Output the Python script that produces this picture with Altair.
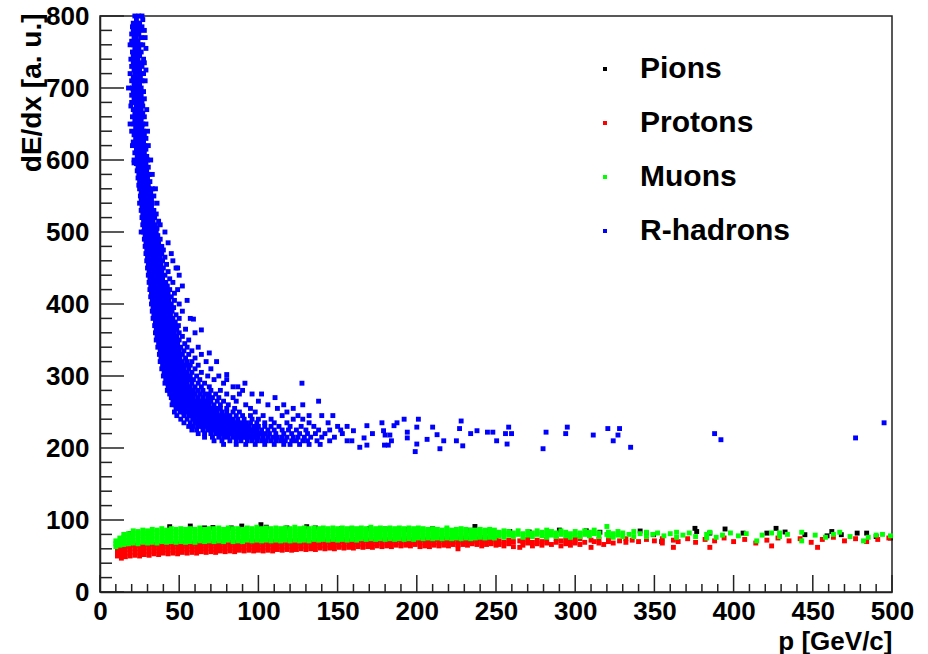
import altair as alt
import pandas as pd

# ---------------- data ----------------
SPECIES = ["Pions", "Protons", "Muons", "R-hadrons"]
COLORS = ["#000000", "#ff0000", "#00ff00", "#0000ff"]

X_MAJOR = [0, 50, 100, 150, 200, 250, 300, 350, 400, 450, 500]
X_MINOR = [10, 20, 30, 40, 60, 70, 80, 90, 110, 120, 130, 140, 160, 170, 180, 190,
           210, 220, 230, 240, 260, 270, 280, 290, 310, 320, 330, 340, 360, 370, 380, 390,
           410, 420, 430, 440, 460, 470, 480, 490]
Y_MAJOR = [0, 100, 200, 300, 400, 500, 600, 700, 800]
Y_MINOR = [20, 40, 60, 80, 120, 140, 160, 180, 220, 240, 260, 280, 320, 340, 360, 380,
           420, 440, 460, 480, 520, 540, 560, 580, 620, 640, 660, 680, 720, 740, 760, 780]

# R-hadrons: rows of (dE/dx, [p values])
RHADRON_ROWS = [
    (800, [22, 24.5, 26.5]), (795, [23, 27]), (790, [21, 23.5, 25]),
    (785, [20.5, 22, 24, 26.5]), (780, [21, 23, 25, 28]), (775, [20, 22.5, 24.5]),
    (770, [21.5, 23, 26, 28.5]), (765, [20, 22, 24]), (760, [19, 21, 23.5, 25.5, 27]),
    (755, [22, 24.5, 29]), (750, [20.5, 22.5, 24, 26]), (745, [21, 23, 25]),
    (740, [19.5, 22, 24, 27.5]), (735, [21, 23.5, 25.5, 28]), (730, [20, 22.5, 24.5, 26.5]),
    (725, [21.5, 23, 25, 29]), (720, [19, 22, 24, 26, 27.5]), (715, [21, 23, 25.5]),
    (710, [20, 22, 24.5, 26.5, 28.5]), (705, [21.5, 23.5, 25]), (700, [18, 20.5, 22.5, 24, 26]),
    (695, [21, 23, 25.5, 27.5]), (690, [20, 22, 24, 26]), (685, [21.5, 23.5, 25, 28]),
    (680, [20, 22.5, 24.5, 26.5]), (675, [19.5, 23, 25, 27]), (670, [21, 22.5, 24, 26, 29.5]),
    (665, [22, 24.5, 27]), (660, [20.5, 23, 25, 26.5, 28]), (655, [22, 24, 26]),
    (650, [19, 21.5, 23.5, 25, 27, 29]), (645, [22.5, 24.5, 26.5]), (640, [20, 23, 25, 27.5, 30]),
    (635, [21.5, 24, 26, 28]), (630, [22.5, 24.5, 27, 29]), (625, [21, 23.5, 25.5, 27.5]),
    (620, [20.5, 22.5, 24.5, 26, 28, 30.5]), (615, [23, 25, 27, 29]), (610, [22, 24, 26, 28]),
    (605, [23.5, 25.5, 27.5, 29.5]), (600, [21.5, 24, 26, 28, 30, 32]), (595, [23, 25, 27, 29]),
    (590, [24, 26, 28, 30.5]), (585, [23.5, 25.5, 27.5, 29.5]), (580, [24.5, 26.5, 28.5, 31, 33]),
    (575, [24, 26, 28, 30]), (570, [25, 27, 29, 31.5]), (565, [24.5, 26.5, 28.5, 30.5]),
    (560, [25, 27, 29, 31, 33, 35]), (555, [26, 28, 30, 32]), (550, [25.5, 27.5, 29.5, 31.5, 34]),
    (545, [26, 28, 30, 32.5]), (540, [25, 27, 29, 31, 33, 36]), (535, [26.5, 28.5, 30.5, 32.5]),
    (530, [26, 28, 30, 32, 34]), (525, [27, 29, 31, 33, 35.5]), (520, [26.5, 28.5, 30.5, 32.5, 34.5]),
    (515, [27.5, 29.5, 31.5, 33.5, 37]), (510, [27, 29, 31, 33, 35, 38]), (505, [28, 30, 32, 34, 36]),
    (500, [26, 27.5, 29.5, 31.5, 33.5, 35.5, 41]), (495, [28.5, 30.5, 32.5, 34.5, 36.5]),
    (490, [28, 30, 32, 34, 36, 38]), (485, [29, 31, 33, 35, 37, 43]),
    (480, [28.5, 30.5, 32.5, 34.5, 36.5, 39]), (475, [29.5, 31.5, 33.5, 35.5, 37.5, 40]),
    (470, [29, 31, 33, 35, 37, 39, 45]), (465, [30, 32, 34, 36, 38, 41]),
    (460, [29.5, 31.5, 33.5, 35.5, 37.5, 39.5, 46]), (455, [30.5, 32.5, 34.5, 36.5, 38.5, 42]),
    (450, [30, 32, 34, 36, 38, 40, 48]), (445, [31, 33, 35, 37, 39, 43]),
    (440, [30.5, 32.5, 34.5, 36.5, 38.5, 41, 50]), (435, [31.5, 33.5, 35.5, 37.5, 39.5, 44]),
    (430, [31, 33, 35, 37, 39, 41.5, 46]), (425, [32, 34, 36, 38, 40, 42.5, 52]),
    (420, [31.5, 33.5, 35.5, 37.5, 39.5, 41.5, 44, 49]), (415, [32.5, 34.5, 36.5, 38.5, 40.5, 43, 47]),
    (410, [32, 34, 36, 38, 40, 42, 45]), (405, [33, 35, 37, 39, 41, 43.5, 47, 55]),
    (400, [32.5, 34.5, 36.5, 38.5, 40.5, 42.5, 45, 50]), (395, [33.5, 35.5, 37.5, 39.5, 41.5, 44, 46.5]),
    (390, [33, 35, 37, 39, 41, 43, 45.5, 52]), (385, [34, 36, 38, 40, 42, 44.5, 48]),
    (380, [33.5, 35.5, 37.5, 39.5, 41.5, 43.5, 46, 50, 57]), (375, [35, 37, 39, 41, 43, 45, 47.5]),
    (370, [34.5, 36.5, 38.5, 40.5, 42.5, 44.5, 47, 49.5]),
    (365, [35.5, 37.5, 39.5, 41.5, 43.5, 46, 48.5, 54]),
    (360, [35, 37, 39, 41, 43, 45, 47, 50, 60]), (355, [36, 38, 40, 42, 44, 46, 48.5, 52]),
    (350, [35.5, 37.5, 39.5, 41.5, 43.5, 45.5, 47.5, 50, 56]),
    (345, [37, 39, 41, 43, 45, 47, 49, 53.5]),
    (340, [36.5, 38.5, 40.5, 42.5, 44.5, 46.5, 48.5, 51, 55, 62]),
    (335, [38, 40, 42, 44, 46, 48, 50, 53, 58]),
    (330, [37.5, 39.5, 41.5, 43.5, 45.5, 47.5, 49.5, 52, 56, 64]),
    (325, [38.5, 40.5, 42.5, 44.5, 46.5, 48.5, 50.5, 54, 60]),
    (320, [38, 40, 42, 44, 46, 48, 50, 52, 55, 58, 67]),
    (315, [39.5, 41.5, 43.5, 45.5, 47.5, 49.5, 51.5, 54, 57, 62]),
    (310, [39, 41, 43, 45, 47, 49, 51, 53, 56, 60, 70]),
    (305, [40.5, 42.5, 44.5, 46.5, 48.5, 50.5, 52.5, 55, 58, 64]),
    (300, [40, 42, 44, 46, 48, 50, 52, 54, 57, 61, 68, 75]),
    (295, [41.5, 43.5, 45.5, 47.5, 49.5, 51.5, 53.5, 56, 59, 63, 72, 80]),
    (290, [41, 43, 45, 47, 49, 51, 53, 55, 58, 62, 66, 78, 91.5, 127.5]),
    (285, [43, 45, 47, 49, 51, 53, 55, 57, 60, 64, 69, 84, 87]),
    (280, [42.5, 44.5, 46.5, 48.5, 50.5, 52.5, 54.5, 56.5, 59, 62, 65, 70, 76, 90]),
    (275, [44, 46, 48, 50, 52, 54, 56, 58, 60, 63, 66, 69, 73, 80, 88, 96, 102]),
    (270, [45, 47, 49, 51, 53, 55, 57, 59, 62, 65, 68, 71, 75, 84, 110.5]),
    (265, [46, 48, 50, 52, 54, 56, 58, 60, 62.5, 65, 67.5, 70, 74, 78, 86, 100, 138]),
    (260, [45.5, 47.5, 49.5, 51.5, 53.5, 55.5, 57.5, 59.5, 61.5, 64, 66.5, 69, 72, 76, 81, 92, 106, 116, 128]),
    (255, [48, 50, 52, 54, 56, 58, 60, 62, 64, 66, 68.5, 71, 73.5, 76, 80, 85, 95, 112, 122]),
    (250, [47, 50.5, 52.5, 55, 57, 59, 61, 63, 65, 67, 69, 71.5, 74, 77, 80, 84, 88, 98, 118]),
    (245, [48.5, 53, 56, 58, 60, 62, 64, 66, 68, 70, 72, 74.5, 77, 79.5, 82, 86, 90, 95, 103,
           115, 125, 132, 140, 147]),
    (240, [51, 55, 58.5, 61, 63, 65, 67, 69, 71, 73, 75, 77, 79, 81.5, 84, 87, 91, 96, 100, 108,
           122, 128]),
    (235, [53, 57, 60, 62, 64, 66, 68, 70, 72, 74, 76, 78, 80, 82, 84.5, 87, 89.5, 92, 95, 99,
           104, 110, 118, 132, 144]),
    (230, [56, 59, 62, 64.5, 67, 69, 71, 73, 75, 77, 79, 81, 83, 85, 87, 89, 91.5, 94, 97, 100,
           104, 108, 113, 120, 127, 135, 150, 156]),
    (225, [58, 61, 65, 68, 70, 72, 74, 76, 78, 80, 82, 84, 86, 88, 90, 92, 94, 96.5, 99, 102,
           106, 110, 115, 119, 124, 130, 138, 145, 152]),
    (220, [62, 66, 70, 73, 75, 77, 79, 81, 83, 85, 87, 89, 91, 93, 95, 97, 99, 101.5, 104, 107,
           111, 116, 121, 126, 131, 136, 142, 153]),
    (215, [66, 71, 75, 78, 81, 84, 86, 88, 90, 92, 94, 96, 98, 100, 103, 106, 109, 112, 115,
           118, 122, 125, 129, 133, 140, 148]),
    (210, [72, 77, 82, 86, 89, 93, 96, 99, 102, 105, 108, 111, 114, 117, 121, 124, 128, 131,
           137, 145, 156]),
    (205, [78, 86, 92, 98, 104, 110, 116, 120, 126, 132, 139]),
]

# R-hadrons: isolated points (p, dE/dx)
RHADRON_TAIL = [
    (495, 235), (477, 214), (388, 220), (392, 211.5), (335, 201), (328, 227), (327, 218),
    (324, 210), (320.6, 227), (311.4, 218), (295, 229), (294, 220), (281.6, 222), (279.7, 199),
    (259.8, 220), (258, 229), (257, 205.5), (256, 220), (250.4, 210), (248, 222), (244.6, 222),
    (238, 224), (234, 220), (229, 203), (227, 227), (228, 237.5), (225, 210), (217, 210),
    (214.6, 199), (212.8, 218.5), (210, 229), (206.5, 212), (201, 240), (200, 229),
    (200, 205.5), (199, 195), (194, 222), (194, 214), (192, 240), (187.5, 235), (185.6, 231),
    (184, 210), (182, 204), (179.6, 204), (179, 224), (178, 235), (180, 218), (183, 218),
    (172, 220), (168.5, 231), (168.5, 204), (166.7, 214), (164, 201), (160, 224), (159, 210),
    (64, 364), (59, 379), (49, 450), (69, 332), (73.6, 320), (80, 302), (21.5, 596),
]

# Muons: columns of (p, [dE/dx values])
MUON_COLS = [
    (10, [63, 67, 71]), (12.5, [65, 70, 75]), (15, [66, 71, 76, 80]), (18, [67, 72, 76, 81]),
    (21, [68, 72, 77, 82, 85]), (24, [67, 71, 76, 80, 84]), (27, [69, 73, 78, 82, 86]),
    (30, [68, 72, 77, 81, 85]), (33, [69, 74, 78, 83, 87]), (36, [68, 72, 77, 82, 86]),
    (39, [70, 74, 79, 83, 88]), (42, [69, 73, 78, 82, 86]), (45, [70, 75, 79, 84, 88]),
    (48, [69, 73, 78, 83, 87]), (51, [70, 74, 79, 83, 88]), (54, [69, 74, 78, 82, 87]),
    (57, [70, 75, 80, 84, 88]), (60, [69, 73, 78, 83, 87]), (63, [71, 75, 79, 84, 89]),
    (66, [70, 74, 79, 83, 87]), (69, [71, 75, 80, 84, 88]), (72, [70, 74, 78, 83, 88]),
    (75, [71, 76, 80, 85, 89]), (78, [70, 74, 79, 83, 87]), (81, [72, 76, 80, 85, 89]),
    (84, [70, 75, 79, 84, 88]), (87, [71, 75, 80, 84, 88]), (90, [70, 74, 79, 83, 87]),
    (93, [72, 76, 80, 85, 89]), (96, [71, 75, 79, 84, 88]), (99, [72, 76, 81, 85, 90]),
    (102, [71, 75, 80, 84, 88]), (105, [72, 76, 81, 85, 89]), (108, [71, 75, 79, 84, 88]),
    (111, [72, 77, 81, 85, 89]), (114, [71, 75, 80, 84, 88]), (117, [72, 76, 81, 85, 89]),
    (120, [71, 75, 79, 84, 88]), (123, [72, 77, 81, 86, 90]), (126, [71, 76, 80, 84, 88]),
    (129, [72, 76, 81, 85, 89]), (132, [71, 75, 80, 84, 88]), (135, [73, 77, 81, 85, 89]),
    (138, [72, 76, 80, 84, 88]), (141, [73, 77, 82, 86, 89]), (144, [72, 76, 80, 85, 88]),
    (147, [73, 77, 81, 85, 89]), (150, [72, 76, 81, 85, 88]), (153, [73, 77, 81, 86, 89]),
    (156, [72, 76, 80, 84, 88]), (159, [73, 78, 82, 86, 89]), (162, [72, 76, 81, 85, 88]),
    (165, [74, 78, 82, 86, 89]), (168, [73, 77, 81, 85, 88]), (171, [74, 78, 82, 86, 90]),
    (174, [73, 77, 81, 85, 88]), (177, [74, 78, 82, 86, 89]), (180, [73, 77, 81, 85, 88]),
    (183, [74, 78, 82, 86, 89]), (186, [73, 77, 81, 85, 88]), (189, [74, 78, 83, 86, 89]),
    (192, [73, 77, 81, 85, 88]), (195, [74, 78, 82, 86, 89]), (198, [73, 77, 81, 85, 88]),
    (201, [75, 79, 83, 86, 89]), (204, [74, 78, 82, 86, 88]), (207, [75, 79, 83, 87]),
    (210, [74, 78, 82, 86, 88]), (213, [75, 79, 83, 87]), (216, [74, 78, 82, 86]),
    (219, [75, 79, 83, 87, 89]), (222, [74, 78, 82, 86]), (225, [75, 79, 83, 87]),
    (228, [74, 78, 82, 86, 88]), (231, [75, 79, 83, 87]), (234, [74, 78, 82, 86]),
    (237, [75, 79, 83, 86]), (240, [76, 80, 84, 87]), (243, [75, 79, 83, 86]),
    (246, [76, 80, 84, 87]), (249, [75, 79, 83, 86]),
    (252, [78, 83]), (255, [76, 81, 85]), (258, [79, 84]), (261, [77, 82]), (264, [80, 85]),
    (267, [76, 81]), (270, [79, 84]), (273, [77, 82]), (276, [80, 85]), (279, [78, 83]),
    (282, [76, 81, 86]), (285, [79, 84]), (288, [77, 82]), (291, [80, 85]), (294, [78, 83]),
    (297, [76, 81]), (300, [79, 84]), (303, [77, 82]), (306, [80, 85]), (309, [78, 83]),
    (312, [81, 86]), (315, [77, 82]), (320, [80, 91]), (321, [78, 83]), (324, [76, 81]),
    (327, [79, 84]), (330, [77, 82]), (334, [80]), (337, [77, 84]), (341, [81]),
    (345, [77, 83]), (349, [80]), (352, [82]), (356, [78]), (360, [81]), (364, [76, 83]),
    (368, [79]), (372, [82]), (376, [77]), (383, [75, 80]), (385, [83]), (389, [76]),
    (393, [79]), (398, [82]), (403, [78]), (408, [81]), (414.6, [71]), (418, [79]),
    (424, [82]), (429, [77, 82]), (434, [80]), (443, [71, 83]), (451.5, [79]), (458, [76]),
    (463, [80]), (467, [83]), (473.5, [77]), (482, [71]), (485, [76]), (490, [79]),
    (494, [80]), (499, [78]),
]

# Protons: columns of (p, [dE/dx values])
PROTON_COLS = [
    (11, [50, 55, 60]), (13.5, [47, 52, 57, 62]), (16, [49, 54, 59, 63]), (19, [50, 55, 60, 64]),
    (22, [51, 56, 61, 65]), (25, [50, 55, 60, 64]), (28, [52, 57, 62, 66]), (31, [51, 56, 61, 65]),
    (34, [53, 58, 62, 66]), (37, [52, 57, 61, 65]), (40, [54, 59, 63, 67]), (43, [53, 58, 62, 66]),
    (46, [54, 59, 63, 67]), (49, [53, 58, 63, 67]), (52, [55, 60, 64, 67]), (55, [54, 59, 63, 67]),
    (58, [55, 60, 64, 68]), (61, [54, 59, 63, 67]), (64, [56, 60, 64, 68]), (67, [55, 60, 64, 68]),
    (70, [56, 61, 65, 68]), (73, [55, 59, 64, 68]), (76, [57, 61, 65, 69]), (79, [56, 60, 65, 69]),
    (82, [57, 62, 66, 69]), (85, [56, 61, 65, 69]), (88, [58, 62, 66, 70]), (91, [57, 61, 66, 70]),
    (94, [58, 63, 67, 70]), (97, [57, 62, 66, 70]), (100, [58, 62, 66, 70]),
    (103, [57, 61, 66, 70]), (106, [58, 63, 67, 71]), (109, [57, 62, 66, 70]),
    (112, [59, 63, 67, 71]), (115, [58, 62, 67, 71]), (118, [59, 64, 68, 72]),
    (121, [58, 63, 67, 71]), (124, [59, 64, 68, 72]), (127, [60, 65, 69]),
    (130, [59, 63, 68, 72]), (133, [60, 65, 69]), (136, [59, 64, 68, 72]), (139, [61, 65, 69]),
    (142, [60, 64, 69, 72]), (145, [61, 66, 70]), (148, [60, 65, 69, 73]), (151, [62, 66, 70]),
    (154, [61, 65, 70, 73]), (157, [62, 67, 71]), (160, [61, 66, 70, 73]), (163, [63, 67, 71]),
    (166, [62, 66, 71]), (169, [63, 68, 72]), (172, [62, 67, 71]), (175, [64, 68, 72]),
    (178, [63, 67, 72]), (181, [64, 69, 73]), (184, [63, 68, 72]), (187, [65, 69, 73]),
    (190, [64, 68, 73]), (193, [65, 70, 74]), (196, [64, 69, 73]), (199, [66, 70, 74]),
    (202, [63, 68, 72]), (205, [64, 69, 73]), (208, [63, 68, 72]), (211, [65, 69, 73]),
    (214, [64, 68, 73]), (217, [65, 70, 74]), (220, [64, 69, 73]), (223, [66, 70, 74]),
    (226, [60, 65, 69, 74]), (229, [66, 71, 75]), (232, [65, 70, 74]), (235, [67, 71, 75]),
    (238, [66, 70, 74]), (241, [64, 68, 73, 76]), (244, [66, 71, 75]), (247, [67, 72, 76]),
    (250, [65, 70, 75]),
    (252, [66, 71]), (255, [64, 69]), (258, [67, 72]), (261, [63, 70]), (265, [62, 71]),
    (267, [65, 70]), (270, [68, 73]), (273, [64, 69]), (276, [67, 72]), (279, [65, 70]),
    (282, [68, 73]), (285, [66]), (288, [69, 74]), (291, [64, 71]), (294, [67, 72]),
    (297, [65, 70]), (300, [68, 73]), (303, [66, 74]), (306, [69]), (310, [62, 72]),
    (312, [70]), (315, [68, 73]), (318, [66]), (321, [70, 75]), (324, [68]), (328, [71]),
    (332, [69, 74]), (336, [72]), (340, [70]), (345, [73]), (350, [71]), (355, [68, 74]),
    (362, [62, 72]), (365, [70]), (371, [74]), (376, [69]), (382, [73]), (385, [62]),
    (388, [71]), (394, [75]), (400, [70]), (407, [73]), (414, [68]), (421, [72]),
    (424, [64]), (428, [75]), (435, [71]), (442, [74]), (449, [69]), (453, [62]),
    (456, [73]), (463, [76]), (470, [71]), (477, [74]), (484, [70]), (491, [73]), (498, [75]),
]

# Pions: points (p, dE/dx) visible around the muon band
PION_POINTS = [
    (11.8, 70), (19, 81), (44, 90.7), (57, 91.6), (66, 89), (71.3, 89.5), (82.9, 89),
    (89.5, 91.6), (101.6, 93.5), (105, 90), (118, 89), (130.5, 90.7), (136, 89),
    (152.5, 88), (159, 87.5), (170, 88), (180, 87.5), (194.6, 86.6), (210, 88),
    (236.7, 91), (234, 85.7), (234.6, 70), (244, 84.7), (248, 84), (258.7, 84),
    (271, 83.3), (290, 86), (307, 85), (315.6, 83), (341, 84.7), (345, 81.8),
    (349.5, 79.6), (354.6, 70), (375.6, 88.4), (376.7, 84), (385, 81.8), (394.6, 87.5),
    (406, 81.8), (421, 81.8), (426.8, 88.4), (432.5, 83.3), (445, 79.6), (459, 78),
    (462, 84), (468, 79.6), (478, 81.8), (484, 81.8), (490, 77), (499, 75),
]

# ---------------- table built from the lists ----------------
rows = []
for p, d in PION_POINTS:
    rows.append({"p": p, "dedx": d, "species": "Pions"})
for p, ds in PROTON_COLS:
    for d in ds:
        rows.append({"p": p, "dedx": d, "species": "Protons"})
for p, ds in MUON_COLS:
    for d in ds:
        rows.append({"p": p, "dedx": d, "species": "Muons"})
for d, ps in RHADRON_ROWS:
    for p in ps:
        rows.append({"p": p, "dedx": d, "species": "R-hadrons"})
for p, d in RHADRON_TAIL:
    rows.append({"p": p, "dedx": d, "species": "R-hadrons"})
df = pd.DataFrame(rows)
df["order"] = range(len(df))

W, H = 792, 576
FONT = "Liberation Sans"

xscale = alt.Scale(domain=[0, 500], nice=False, zero=False)
yscale = alt.Scale(domain=[0, 800], nice=False, zero=False)

x_axis = alt.Axis(
    values=X_MAJOR, format="d", ticks=False, grid=False, domainColor="#222",
    domainWidth=1.5, labelFont=FONT, labelFontSize=26, labelFontWeight="bold",
    labelColor="#000", labelPadding=6, labelFlush=False,
    title="p [GeV/c]", titleFont=FONT, titleFontSize=26, titleFontWeight="bold",
    titleColor="#000", titleAnchor="end", titleAlign="right", titleBaseline="alphabetic",
    titleX=W, titleY=57)
y_axis = alt.Axis(
    values=Y_MAJOR, format="d", ticks=False, grid=False, domainColor="#222",
    domainWidth=1.5, labelFont=FONT, labelFontSize=26, labelFontWeight="bold",
    labelColor="#000", labelPadding=11, labelFlush=False,
    title="dE/dx [a. u.]", titleFont=FONT, titleFontSize=28, titleFontWeight="bold",
    titleColor="#000", titleAngle=-90, titleAlign="right", titleBaseline="middle",
    titleX=-68, titleY=-3)

X = alt.X("p:Q", scale=xscale, axis=x_axis, title="p [GeV/c]")
Y = alt.Y("dedx:Q", scale=yscale, axis=y_axis, title="dE/dx [a. u.]")

points = alt.Chart(df).mark_square(size=24, opacity=1, strokeWidth=0).encode(
    x=X, y=Y,
    color=alt.Color("species:N", scale=alt.Scale(domain=SPECIES, range=COLORS),
                    sort=SPECIES,
                    legend=alt.Legend(
                        title=None, orient="none", legendX=490, legendY=38,
                        direction="vertical", symbolType="square", symbolSize=16,
                        symbolStrokeWidth=0, labelFont=FONT, labelFontSize=30,
                        labelFontWeight="bold", labelColor="#000", labelOffset=20,
                        rowPadding=24, padding=0)),
    order=alt.Order("order:Q"),
)

ymaj = alt.Chart(pd.DataFrame({"dedx": Y_MAJOR})).mark_rule(color="#222", strokeWidth=1.5).encode(
    y=Y, x=alt.value(0), x2=alt.value(24))
ymin = alt.Chart(pd.DataFrame({"dedx": Y_MINOR})).mark_rule(color="#222", strokeWidth=1.5).encode(
    y=Y, x=alt.value(0), x2=alt.value(12))
xmaj = alt.Chart(pd.DataFrame({"p": X_MAJOR})).mark_rule(color="#222", strokeWidth=1.5).encode(
    x=X, y=alt.value(H), y2=alt.value(H - 17))
xmin = alt.Chart(pd.DataFrame({"p": X_MINOR})).mark_rule(color="#222", strokeWidth=1.5).encode(
    x=X, y=alt.value(H), y2=alt.value(H - 8))

chart = alt.layer(points, ymaj, ymin, xmaj, xmin).properties(
    width=W, height=H,
    autosize=alt.AutoSizeParams(type="none"),
    padding={"left": 100, "top": 16, "right": 36, "bottom": 62},
    background="white",
).configure_view(stroke="#222", strokeWidth=1.5)

chart.save("out.html", embed_options={"renderer": "svg", "actions": False})
